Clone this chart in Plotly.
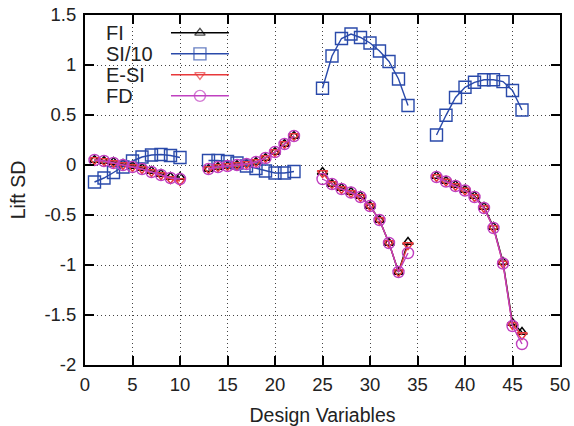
import plotly.graph_objects as go

nan = None
design_vars = list(range(1, 47))

# values for design variables 1..46 (None = gap: 11,12,23,24,35,36)
fi = [0.05, 0.04, 0.03, 0.01, -0.01, -0.03, -0.06, -0.09, -0.12, -0.12,
      nan, nan,
      -0.04, -0.02, -0.01, 0.00, 0.01, 0.03, 0.07, 0.13, 0.21, 0.29,
      nan, nan,
      -0.07, -0.19, -0.23, -0.27, -0.31, -0.41, -0.55, -0.78, -1.07, -0.77,
      nan, nan,
      -0.11, -0.16, -0.20, -0.25, -0.31, -0.42, -0.62, -0.97, -1.58, -1.67]
si10 = [-0.17, -0.13, -0.075, -0.02, 0.04, 0.08, 0.10, 0.105, 0.095, 0.075,
        nan, nan,
        0.045, 0.045, 0.035, 0.02, -0.01, -0.035, -0.06, -0.08, -0.08, -0.065,
        nan, nan,
        0.767, 1.09, 1.265, 1.31, 1.275, 1.22, 1.14, 1.035, 0.86, 0.595,
        nan, nan,
        0.30, 0.497, 0.675, 0.777, 0.827, 0.853, 0.853, 0.834, 0.745, 0.55]
esi = [0.05, 0.04, 0.02, 0.00, -0.02, -0.04, -0.07, -0.10, -0.14, -0.16,
       nan, nan,
       -0.04, -0.02, -0.01, 0.00, 0.01, 0.03, 0.07, 0.13, 0.21, 0.29,
       nan, nan,
       -0.08, -0.19, -0.24, -0.28, -0.32, -0.41, -0.55, -0.78, -1.07, -0.80,
       nan, nan,
       -0.12, -0.165, -0.21, -0.255, -0.32, -0.43, -0.63, -0.985, -1.60, -1.70]
fd = [0.05, 0.04, 0.02, 0.00, -0.02, -0.04, -0.07, -0.10, -0.13, -0.14,
      nan, nan,
      -0.04, -0.02, -0.01, 0.00, 0.01, 0.03, 0.07, 0.13, 0.21, 0.29,
      nan, nan,
      -0.14, -0.19, -0.24, -0.275, -0.32, -0.41, -0.55, -0.78, -1.07, -0.88,
      nan, nan,
      -0.12, -0.165, -0.21, -0.255, -0.32, -0.43, -0.63, -0.985, -1.61, -1.79]

series_names = ["FI", "SI/10", "E-SI", "FD"]
series_vals = [fi, si10, esi, fd]
colors = ["#000000", "#2a4aaa", "#e8383a", "#c040c0"]
symbols = ["triangle-up-open", "square-open", "triangle-down-open", "circle-open"]
sizes = [9, 12, 9, 11]

x_ticks = list(range(0, 51, 5))
y_ticks = [-2, -1.5, -1, -0.5, 0, 0.5, 1, 1.5]

FONT = "Liberation Sans, Arial, Helvetica, sans-serif"

fig = go.Figure()
for name, vals, c, s, sz in zip(series_names, series_vals, colors, symbols, sizes):
    fig.add_trace(go.Scatter(
        x=design_vars, y=vals, name=name, mode="lines+markers",
        line=dict(color=c, width=1.4),
        marker=dict(symbol=s, size=sz, color=c, line=dict(color=c, width=1.4)),
        showlegend=False))

# manual legend (text left, sample right), in plot-area fractions
leg_y = [0.949, 0.889, 0.829, 0.769]
for i, (name, c, s, sz) in enumerate(zip(series_names, colors, symbols, sizes)):
    fig.add_trace(go.Scatter(
        x=[0.181, 0.242, 0.303], y=[leg_y[i]] * 3, mode="lines+markers",
        xaxis="x2", yaxis="y2",
        line=dict(color=c, width=1.5),
        marker=dict(symbol=s, size=[0, sz, 0], color=c, line=dict(color=c, width=1.4)),
        showlegend=False, hoverinfo="skip"))
    fig.add_annotation(x=0.04, y=leg_y[i], xref="x2", yref="y2", text=name,
                       showarrow=False, xanchor="left", yanchor="middle",
                       font=dict(family=FONT, size=20, color="#222"))

axis_common = dict(showline=True, linecolor="black", linewidth=2, mirror="ticks",
                   ticks="inside", ticklen=9, tickwidth=1.5, tickcolor="black",
                   showgrid=True, gridcolor="#444", griddash="1px,3px", gridwidth=1,
                   zeroline=False, automargin=False,
                   tickfont=dict(family=FONT, size=18.5, color="#222"))

fig.update_layout(
    width=574, height=426,
    margin=dict(l=85, r=14, t=15, b=61),
    plot_bgcolor="white", paper_bgcolor="white",
    showlegend=False,
    xaxis=dict(range=[0, 50], tickvals=x_ticks, ticktext=[str(v) for v in x_ticks],
               ticklabelstandoff=2,
               title=dict(text="Design Variables", font=dict(family=FONT, size=19.5, color="#222"), standoff=18),
               **axis_common),
    yaxis=dict(range=[-2, 1.5], tickvals=y_ticks, ticktext=[f"{v:g}" for v in y_ticks],
               ticklabelstandoff=3,
               title=dict(text="Lift SD", font=dict(family=FONT, size=19.5, color="#222"), standoff=14),
               **axis_common),
    xaxis2=dict(overlaying="x", range=[0, 1], visible=False, domain=[0, 1]),
    yaxis2=dict(overlaying="y", range=[0, 1], visible=False),
)

fig.write_html("out.html", config={"displayModeBar": False},
               post_script="document.body.style.margin='0';document.body.style.padding='0';document.body.style.overflow='hidden';")
